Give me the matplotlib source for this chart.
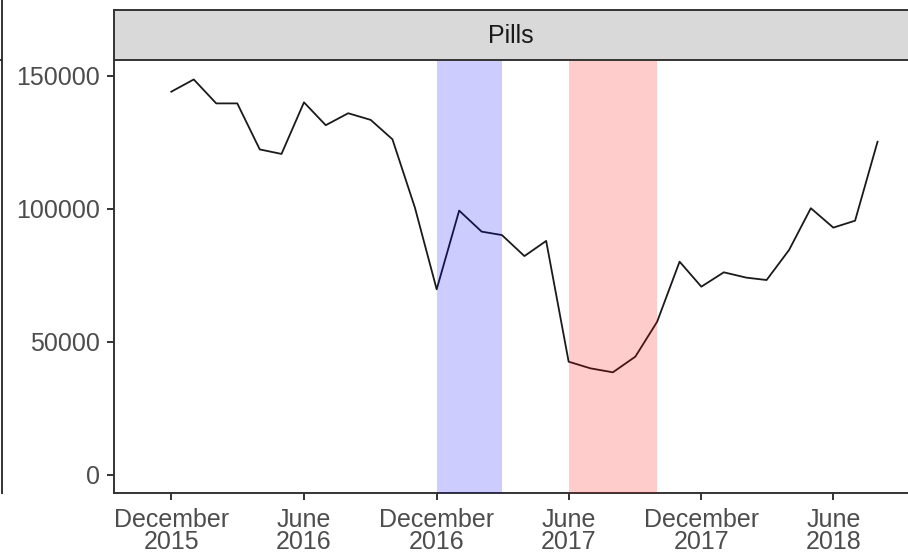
import matplotlib
matplotlib.use("Agg")
import matplotlib.pyplot as plt
from matplotlib.lines import Line2D
import pandas as pd

# monthly counts
months = pd.date_range("2015-12-01", "2018-08-01", freq="MS")
pills = [144100, 148700, 139700, 139700, 122400, 120700, 140100, 131500,
         136000, 133500, 126200, 100500, 69800, 99400, 91500, 90200,
         82300, 88000, 42600, 40100, 38600, 44500, 57600, 80200,
         70800, 76200, 74200, 73300, 84600, 100300, 93000, 95600, 125300]

blue_span = ("2016-12-01", "2017-03-01")
red_span = ("2017-06-01", "2017-10-01")

tick_dates = pd.to_datetime(["2015-12-01", "2016-06-01", "2016-12-01",
                             "2017-06-01", "2017-12-01", "2018-06-01"])
tick_labels = ["December\n2015", "June\n2016", "December\n2016",
               "June\n2017", "December\n2017", "June\n2018"]
y_ticks = [0, 50000, 100000, 150000]

plt.rcParams["font.family"] = ["Liberation Sans", "DejaVu Sans"]

W, H = 908, 555
fig = plt.figure(figsize=(W / 100, H / 100), dpi=100)

axcol = "#333333"
txtcol = "#4D4D4D"

ax = fig.add_axes([114 / W, (H - 493) / H, (W - 114) / W, (493 - 60) / H])
ax.plot(months, pills, color="#1a1a1a", lw=1.3, zorder=2)
ax.axvspan(pd.Timestamp(blue_span[0]), pd.Timestamp(blue_span[1]),
           color="blue", alpha=0.2, lw=0, zorder=3)
ax.axvspan(pd.Timestamp(red_span[0]), pd.Timestamp(red_span[1]),
           color="red", alpha=0.2, lw=0, zorder=3)

x0 = pd.Timestamp("2015-12-01")
ax.set_xlim(x0 - pd.Timedelta(days=79), x0 + pd.Timedelta(days=1016))
ax.set_ylim(-6767, 156015)
ax.set_xticks(tick_dates)
ax.set_xticklabels(tick_labels, linespacing=0.9)
ax.set_yticks(y_ticks)
ax.set_yticklabels([str(v) for v in y_ticks])

for s in ["top", "right"]:
    ax.spines[s].set_visible(False)
for s in ["left", "bottom"]:
    ax.spines[s].set_color(axcol)
    ax.spines[s].set_linewidth(1.4)
ax.tick_params(colors=axcol, width=1.4, length=5, labelsize=18,
               labelcolor=txtcol)
ax.tick_params(axis="x", pad=6)
ax.tick_params(axis="y", pad=5)

# facet strip
sax = fig.add_axes([114 / W, (H - 60) / H, (W - 114) / W, 50 / H])
sax.set_facecolor("#D9D9D9")
sax.set_xticks([])
sax.set_yticks([])
for s in ["top", "left", "bottom"]:
    sax.spines[s].set_color(axcol)
    sax.spines[s].set_linewidth(1.4)
sax.spines["right"].set_visible(False)
sax.text(0.5, 0.48, "Pills", ha="center", va="center", fontsize=18,
         color="#1A1A1A", transform=sax.transAxes)

# edge of the neighbouring panel on the left
fig.add_artist(Line2D([2 / W, 2 / W], [1, (H - 493) / H], color=axcol, lw=1.4))
fig.add_artist(Line2D([0, 2 / W], [(H - 60) / H, (H - 60) / H], color=axcol, lw=1.4))

fig.savefig("out.png", dpi=100)
